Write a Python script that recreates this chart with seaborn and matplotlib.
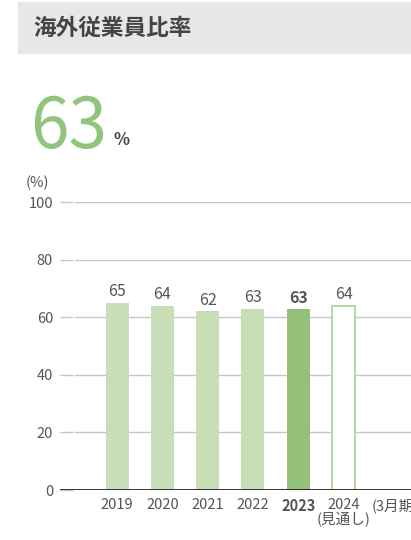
import pandas as pd
import seaborn as sns
import matplotlib.pyplot as plt
from matplotlib.patches import Rectangle

# data
years = ['2019', '2020', '2021', '2022', '2023', '2024']
ratios = [65, 64, 62, 63, 63, 64]
tick_labels = ['2019', '2020', '2021', '2022', '2023', '2024\n(見通し)']
y_ticks = [0, 20, 40, 60, 80, 100]
headline = '63'

LIGHT = '#c8deb7'
DARK = '#93c17a'
EDGE = '#a9d292'
TEXT = '#555555'

sns.set_style('white')
plt.rcParams['font.family'] = ['Noto Sans CJK JP', 'DejaVu Sans']

df = pd.DataFrame({'year': years, 'ratio': ratios})

W, H = 411, 540
fig = plt.figure(figsize=(W / 100, H / 100), dpi=100)

# header band
fig.patches.append(Rectangle((18 / W, 1 - 54 / H), 1 - 18 / W, 52 / H,
                             transform=fig.transFigure, facecolor='#e6e7e9',
                             edgecolor='none', zorder=0))
fig.text(33 / W, 1 - 28 / H, '海外従業員比率', fontsize=16.3, fontweight='bold',
         color='#444444', va='center', ha='left')

# headline number
fig.text(30 / W, 1 - 148 / H, headline, fontsize=50, color='#93c47d',
         va='baseline', ha='left')
fig.text(113 / W, 1 - 145 / H, '%', fontsize=12, color='#444444',
         va='baseline', ha='left', fontweight='bold')
fig.text(26 / W, 1 - 183 / H, '(%)', fontsize=10.5, color=TEXT,
         va='center', ha='left')

ax = fig.add_axes([60 / W, 50 / H, 1 - 60 / W, (490 - 202) / H])

colors = [LIGHT, LIGHT, LIGHT, LIGHT, DARK, 'white']
sns.barplot(data=df, x='year', y='ratio', hue='year', palette=colors,
            legend=False, width=0.51, saturation=1, ax=ax, zorder=2)
for patch, c in zip(ax.patches, colors):
    if c == 'white':
        patch.set_edgecolor(EDGE)
        patch.set_linewidth(1.2)
    else:
        patch.set_edgecolor('none')

ax.set_xlim(-1.26, 6.49)
ax.set_ylim(0, 100)

# gridlines start a little right of the tick dashes
for y in y_ticks[1:]:
    ax.axhline(y, xmin=0.043, xmax=1, color='#c6c6c6', lw=1, zorder=0)
ax.axhline(0, color='#222222', lw=2, zorder=3)

for i, v in enumerate(ratios):
    ax.annotate(str(v), (i, v), xytext=(0, 2), textcoords='offset points',
                ha='center', va='bottom', fontsize=11.5, color=TEXT,
                fontweight='bold' if years[i] == '2023' else 'normal')

ax.set_yticks(y_ticks)
ax.set_yticklabels([str(t) for t in y_ticks], fontsize=10.5, color=TEXT)
ax.tick_params(axis='y', direction='in', length=9, width=1, color='#c6c6c6',
               pad=5, left=True)
ax.set_xticks(range(len(years)))
ax.set_xticklabels(tick_labels, fontsize=10.5, color=TEXT, linespacing=1.0)
ax.get_xticklabels()[4].set_fontweight('bold')
ax.tick_params(axis='x', length=0, pad=6)
# period note, cut by the right edge as in the source layout
ax.annotate('(3月期)', (5.62, 0), xycoords=('data', 'axes fraction'),
            xytext=(0, -6), textcoords='offset points', ha='left', va='top',
            fontsize=10.5, color=TEXT, annotation_clip=False)

ax.set_xlabel('')
ax.set_ylabel('')
sns.despine(ax=ax, left=True, bottom=True)

plt.savefig('out.png', dpi=100)
